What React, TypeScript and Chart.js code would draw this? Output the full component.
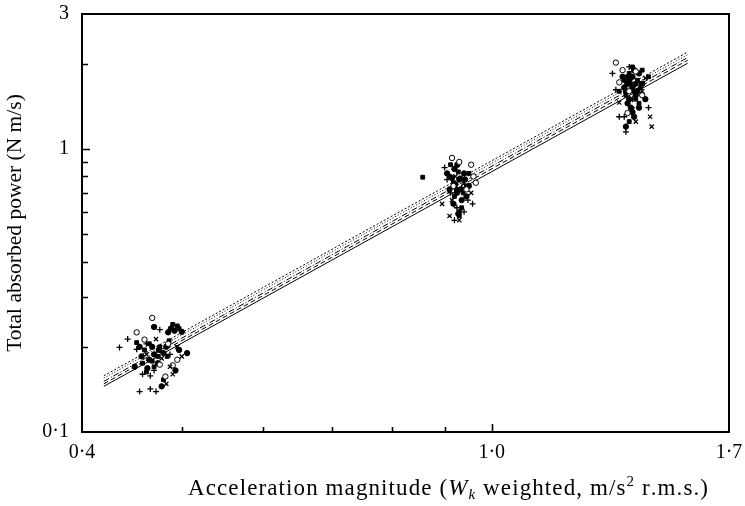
import React, { useEffect, useRef } from "react";
import { Chart, registerables } from "chart.js";
Chart.register(...registerables);

// Axis ticks
const xTickValues = [0.4, 1.0, 1.7];
const xTickLabels = ["0·4", "1·0", "1·7"];
const yTickValues = [0.1, 1, 3];
const yTickLabels = ["0·1", "1", "3"];
const xMinorTicks = [0.5, 0.6, 0.7, 0.8, 0.9];
const yMinorTicks = [0.2, 0.3, 0.4, 0.5, 0.6, 0.7, 0.8, 0.9, 2];

// Regression lines (endpoints)
const lineX = [0.42, 1.55];
const lineA = [0.145, 2.01];
const lineB = [0.148, 2.06];
const lineC = [0.151, 2.105];
const lineD = [0.155, 2.155];
const lineE = [0.158, 2.2];

// Scatter series: "+"
const plusX = [0.443, 0.452, 0.458, 0.466, 0.47, 0.455, 0.466, 0.472, 0.462, 0.487, 0.476, 0.435,
  0.9, 0.912, 0.925, 0.94, 0.948, 0.958, 0.905, 0.935, 0.92,
  1.31, 1.32, 1.33, 1.345, 1.35, 1.37, 1.39, 1.36, 1.42];
const plusY = [0.213, 0.196, 0.16, 0.158, 0.165, 0.139, 0.142, 0.139, 0.205, 0.188, 0.23, 0.199,
  0.86, 0.7, 0.62, 0.6, 0.66, 0.64, 0.78, 0.73, 0.56,
  1.85, 1.62, 1.3, 1.3, 1.15, 1.5, 1.72, 1.95, 1.4];
// "x"
const crossX = [0.472, 0.495, 0.487, 0.478, 0.49, 0.483, 0.462, 0.5,
  0.895, 0.91, 0.93, 0.922, 0.94, 0.955, 0.915,
  1.33, 1.35, 1.38, 1.4, 1.425, 1.43, 1.37, 1.41];
const crossY = [0.213, 0.2, 0.17, 0.182, 0.16, 0.148, 0.188, 0.185,
  0.64, 0.58, 0.56, 0.8, 0.76, 0.7, 0.66,
  1.46, 1.7, 1.25, 1.6, 1.3, 1.2, 1.38, 1.78];
// open circles
const openX = [0.468, 0.452, 0.485, 0.476, 0.49, 0.482, 0.46, 0.495,
  0.915, 0.93, 0.955, 0.96, 0.945, 0.965, 0.918,
  1.32, 1.34, 1.355, 1.38, 1.4, 1.36, 1.33];
const openY = [0.253, 0.225, 0.205, 0.173, 0.172, 0.157, 0.212, 0.18,
  0.93, 0.9, 0.88, 0.8, 0.72, 0.76, 0.74,
  2.02, 1.9, 1.34, 1.88, 1.55, 1.6, 1.72];
// filled circles
const dotX = [0.47, 0.5, 0.506, 0.493, 0.475, 0.465, 0.48, 0.457, 0.485, 0.478, 0.468, 0.45,
  0.488, 0.492, 0.474, 0.47, 0.463, 0.483, 0.497, 0.455,
  0.905, 0.92, 0.93, 0.94, 0.925, 0.935, 0.95, 0.91, 0.928, 0.945,
  0.915, 0.922, 0.933, 0.926, 0.942, 0.918,
  1.34, 1.35, 1.36, 1.37, 1.38, 1.39, 1.355, 1.365, 1.375, 1.4, 1.41, 1.35,
  1.345, 1.355, 1.37, 1.385, 1.36, 1.375, 1.39, 1.37];
const dotY = [0.235, 0.226, 0.19, 0.165, 0.195, 0.18, 0.19, 0.185, 0.225, 0.145, 0.2, 0.17,
  0.232, 0.228, 0.175, 0.188, 0.168, 0.2, 0.195, 0.2,
  0.82, 0.85, 0.78, 0.82, 0.7, 0.66, 0.74, 0.72, 0.59, 0.68,
  0.79, 0.75, 0.72, 0.88, 0.78, 0.64,
  1.8, 1.6, 1.75, 1.65, 1.55, 1.85, 1.45, 1.4, 1.3, 1.7, 1.5, 1.2,
  1.65, 1.7, 1.8, 1.6, 1.5, 1.9, 1.4, 1.35];
// filled squares
const squareX = [0.49, 0.497, 0.458, 0.465, 0.474, 0.48, 0.46, 0.486, 0.452, 0.47,
  0.468, 0.476, 0.484, 0.462, 0.495,
  0.857, 0.91, 0.918, 0.928, 0.938, 0.95, 0.92, 0.935, 0.93, 0.912,
  0.924, 0.932, 0.945, 0.93,
  1.33, 1.345, 1.36, 1.37, 1.38, 1.39, 1.4, 1.42, 1.36, 1.38, 1.35,
  1.365, 1.375, 1.385, 1.395, 1.355];
const squareY = [0.24, 0.232, 0.175, 0.205, 0.185, 0.153, 0.195, 0.21, 0.207, 0.17,
  0.178, 0.2, 0.185, 0.163, 0.237,
  0.795, 0.8, 0.76, 0.83, 0.7, 0.82, 0.68, 0.62, 0.58, 0.88,
  0.72, 0.79, 0.74, 0.6,
  1.6, 1.75, 1.85, 1.95, 1.7, 1.45, 1.9, 1.8, 1.25, 1.5, 1.55,
  1.7, 1.6, 1.75, 1.65, 1.8];

const yTitle = "Total absorbed power (N m/s)";
const FONT = "'Liberation Serif', 'Times New Roman', serif";

const pts = (xs: number[], ys: number[]) => xs.map((x, i) => ({ x, y: ys[i] }));

const framePlugin = {
  id: "frame",
  afterDraw(chart: any) {
    const { ctx, chartArea } = chart;
    const { left, right, top, bottom } = chartArea;
    const xs = chart.scales.x;
    const ys = chart.scales.y;
    ctx.save();
    ctx.strokeStyle = "#000";
    ctx.lineWidth = 2;
    ctx.strokeRect(left, top, right - left, bottom - top);
    ctx.lineWidth = 1.6;
    ctx.beginPath();
    for (const v of xMinorTicks) {
      const px = Math.round(xs.getPixelForValue(v)) + 0.5;
      ctx.moveTo(px, bottom);
      ctx.lineTo(px, bottom - 5);
    }
    for (const v of xTickValues.slice(1, -1)) {
      const px = Math.round(xs.getPixelForValue(v)) + 0.5;
      ctx.moveTo(px, bottom);
      ctx.lineTo(px, bottom - 8);
    }
    for (const v of yMinorTicks) {
      const py = Math.round(ys.getPixelForValue(v)) + 0.5;
      ctx.moveTo(left, py);
      ctx.lineTo(left + 6, py);
    }
    for (const v of yTickValues.slice(1, -1)) {
      const py = Math.round(ys.getPixelForValue(v)) + 0.5;
      ctx.moveTo(left, py);
      ctx.lineTo(left + 8, py);
    }
    ctx.stroke();

    // x-axis title with italic W, subscript k and superscript 2
    const segs: [string, string, number][] = [
      ["Acceleration magnitude (", `23px ${FONT}`, 0],
      ["W", `italic 23px ${FONT}`, 0],
      ["k", `italic 15px ${FONT}`, 4],
      [" weighted, m/s", `23px ${FONT}`, 0],
      ["2", `15px ${FONT}`, -9],
      [" r.m.s.)", `23px ${FONT}`, 0],
    ];
    const targetLeft = 188;
    const targetRight = 708;
    let natural = 0;
    let nChars = 0;
    for (const [t, f] of segs) {
      ctx.font = f;
      for (const ch of t) {
        natural += ctx.measureText(ch).width;
        nChars += 1;
      }
    }
    const extra = Math.max(0, (targetRight - targetLeft - natural) / (nChars - 1));
    let cx = targetLeft;
    const baseY = 495;
    ctx.fillStyle = "#000";
    ctx.textBaseline = "alphabetic";
    ctx.textAlign = "left";
    for (const [t, f, dy] of segs) {
      ctx.font = f;
      for (const ch of t) {
        ctx.fillText(ch, cx, baseY + dy);
        cx += ctx.measureText(ch).width + extra;
      }
    }
    ctx.restore();
  },
};

export default function App() {
  const ref = useRef<HTMLCanvasElement | null>(null);
  useEffect(() => {
    if (!ref.current) return;
    const common = { showLine: false, borderColor: "#000", borderWidth: 1, pointRadius: 2.7 };
    const lineDs = (ys: number[], dash: number[]) => ({
      data: pts(lineX, ys),
      showLine: true,
      borderColor: "#000",
      borderWidth: 1,
      borderDash: dash,
      pointRadius: 0,
      fill: false,
    });
    const chart = new Chart(ref.current, {
      type: "scatter",
      data: {
        datasets: [
          { ...common, data: pts(plusX, plusY), pointStyle: "cross", pointRadius: 3, borderWidth: 1.3, backgroundColor: "#000" },
          { ...common, data: pts(crossX, crossY), pointStyle: "crossRot", pointRadius: 3, borderWidth: 1.3, backgroundColor: "#000" },
          { ...common, data: pts(openX, openY), pointStyle: "circle", backgroundColor: "#fff" },
          { ...common, data: pts(dotX, dotY), pointStyle: "circle", backgroundColor: "#000" },
          { ...common, data: pts(squareX, squareY), pointStyle: "rect", backgroundColor: "#000" },
          lineDs(lineA, []),
          lineDs(lineB, [5, 3]),
          lineDs(lineC, [6, 2, 1, 2]),
          lineDs(lineD, [1, 2]),
          lineDs(lineE, [2, 2]),
        ] as any,
      },
      options: {
        responsive: false,
        animation: false,
        layout: { padding: { left: 0, top: 14, right: 16, bottom: 0 } },
        plugins: { legend: { display: false }, tooltip: { enabled: false } },
        scales: {
          x: {
            type: "logarithmic",
            min: 0.4,
            max: 1.7,
            border: { display: false },
            grid: { display: false, drawTicks: false },
            afterBuildTicks: (s: any) => {
              s.ticks = xTickValues.map((v) => ({ value: v }));
            },
            afterFit: (s: any) => {
              s.height = 74;
              s.paddingLeft = 0;
              s.paddingRight = 0;
            },
            ticks: {
              autoSkip: false,
              maxRotation: 0,
              padding: 9,
              color: "#000",
              font: { family: FONT, size: 20 },
              callback: (_v: any, i: number) => xTickLabels[i],
            },
          },
          y: {
            type: "logarithmic",
            min: 0.1,
            max: 3,
            border: { display: false },
            grid: { display: false, drawTicks: false },
            afterBuildTicks: (s: any) => {
              s.ticks = yTickValues.map((v) => ({ value: v }));
            },
            afterFit: (s: any) => {
              s.width = 82;
              s.paddingTop = 0;
              s.paddingBottom = 0;
            },
            ticks: {
              autoSkip: false,
              padding: 13,
              color: "#000",
              font: { family: FONT, size: 20 },
              callback: (_v: any, i: number) => yTickLabels[i],
            },
            title: {
              display: true,
              text: yTitle,
              color: "#000",
              font: { family: FONT, size: 21.5 },
              padding: { top: 2, bottom: 0 },
            },
          },
        },
      } as any,
      plugins: [framePlugin],
    });
    return () => chart.destroy();
  }, []);
  return (
    <div style={{ position: "absolute", left: 0, top: 0, width: 745, height: 506, background: "#fff" }}>
      <canvas ref={ref} width={745} height={506} style={{ display: "block" }} />
    </div>
  );
}
